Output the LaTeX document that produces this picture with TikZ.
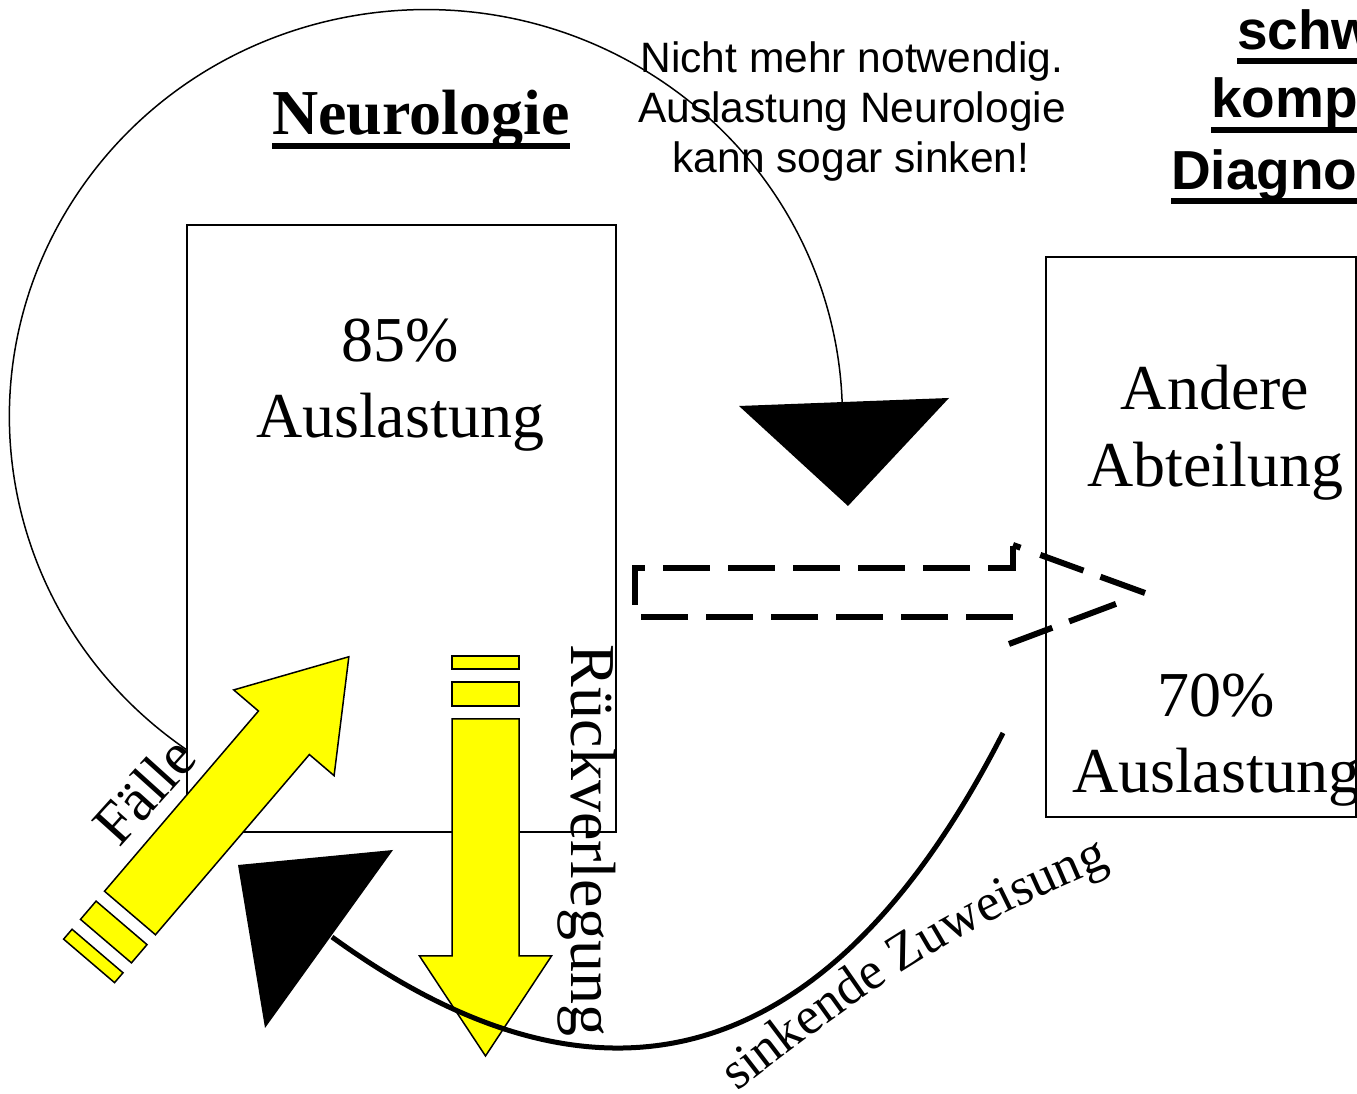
\documentclass[tikz,border=0pt]{standalone}
\usepackage{fontspec}
\setmainfont{Liberation Serif}
\newfontfamily\arialfont{Liberation Sans}
\usetikzlibrary{decorations.text}
\definecolor{pureyellow}{RGB}{255,255,0}
\newsavebox\ulbox
\newcommand\thickul[3]{\sbox\ulbox{#3}\rlap{\rule[-#1]{\wd\ulbox}{#2}}\usebox\ulbox}
\newcommand\fsz[1]{\fontsize{#1}{#1}\selectfont}
\newcommand\sinkfont{\fontsize{53}{53}\selectfont}
\tikzset{
  boxstyle/.style={draw=black, line width=1.5pt, inner sep=0pt, outer sep=0pt},
  lbl/.style={inner sep=0pt, outer sep=0pt},
  yarrow/.style={fill=pureyellow, draw=black, line width=1.5pt, line join=miter},
  thinline/.style={draw=black, line width=1.5pt},
  thickline/.style={draw=black, line width=5pt},
  dashline/.style={draw=black, line width=6pt, line join=miter, dash pattern=on 47pt off 18pt},
  yellowarrow/.pic={
    \draw[yarrow] (0,-33.5) -- (237,-33.5) -- (237,-66) -- (337,0) -- (237,66) -- (237,33.5) -- (0,33.5) -- cycle;
    \draw[yarrow] (-37,-33.5) rectangle (-13,33.5);
    \draw[yarrow] (-63,-33.5) rectangle (-50,33.5);
  }
}
\begin{document}
\begin{tikzpicture}[x=1pt,y=1pt]
\useasboundingbox (0,0) rectangle (1357,1094);
\clip (0,0) rectangle (1357,1094);

% boxes
\node[boxstyle, minimum width=429pt, minimum height=607pt, anchor=south west] (neuro) at (187,262) {};
\node[boxstyle, minimum width=310pt, minimum height=560pt, anchor=south west] (andere) at (1046,277) {};

% big arc to the black arrow head
\coordinate (arcS) at (187,344);
\draw[thinline] (arcS) arc[start angle=235, end angle=2, x radius=416.5, y radius=407] coordinate (arcE);
\coordinate (triA1) at (739,688);
\coordinate (triA2) at (949,696);
\coordinate (triA3) at (848,588);
\fill[black] (triA1) -- (triA2) -- (triA3) -- cycle;

% yellow arrows
\pic[rotate=49.5] at (130,181) {yellowarrow};
\pic[rotate=-90] at (485.5,375) {yellowarrow};

% dashed outline arrow
\coordinate (dtip) at (1145,501);
\coordinate (dup) at (1013,549);
\draw[dashline, dash phase=53pt] (635,477) -- (635,526) -- (1013,526) -- (dup);
\draw[dashline, dash pattern=on 8pt off 21pt on 46pt off 18pt on 50pt off 10pt] (dup) -- (dtip);
\draw[dashline, dash pattern=on 0pt off 31pt on 50pt off 18pt on 60pt off 10pt] (dtip) -- (1009,450);
\draw[dashline] (1013,477) -- (635,477);

% curved thick connector
\coordinate (wS) at (1003,361);
\coordinate (wE) at (332,157);
\draw[thickline] (wS) .. controls (841,44) and (620,-52) .. (wE);
\coordinate (triB1) at (238,229);
\coordinate (triB2) at (393,244);
\coordinate (triB3) at (265,66);
\fill[black] (triB1) -- (triB2) -- (triB3) -- cycle;

% texts
\node[lbl, anchor=base, font=\fsz{64}\bfseries] (neurotitle) at (421,959) {\thickul{14pt}{6pt}{Neurologie}};
\node[lbl, anchor=base, font=\fsz{64}] (pct85) at (400,732) {85\%};
\node[lbl, anchor=base, font=\fsz{64}] (ausl1) at (400,656) {Auslastung};
\node[lbl, anchor=base, font=\fsz{64}] (andtxt) at (1215,684) {Andere};
\node[lbl, anchor=base, font=\fsz{64}] (abttxt) at (1215,607) {Abteilung};
\node[lbl, anchor=base, font=\fsz{64}] (pct70) at (1216,377) {70\%};
\node[lbl, anchor=base, font=\fsz{64}] (ausl2) at (1216,301) {Auslastung};

\node[lbl, anchor=base, font=\arialfont\fsz{42.5}] (nm1) at (852,1021) {Nicht mehr notwendig.};
\node[lbl, anchor=base, font=\arialfont\fsz{42.5}] (nm2) at (852,971) {Auslastung Neurologie};
\node[lbl, anchor=base, font=\arialfont\fsz{42.5}] (nm3) at (851,921) {kann sogar sinken!};

\node[lbl, anchor=base west, font=\arialfont\bfseries\fsz{55}] (tr1) at (1237,1044) {\thickul{14pt}{6pt}{schwere}};
\node[lbl, anchor=base west, font=\arialfont\bfseries\fsz{55}] (tr2) at (1211,976) {\thickul{15pt}{6pt}{komplexe}};
\node[lbl, anchor=base west, font=\arialfont\bfseries\fsz{55}] (tr3) at (1171,904) {\thickul{14pt}{6pt}{Diagnosen}};

\node[lbl, rotate=-90, anchor=base west, font=\fsz{64}] (rueck) at (571,449) {Rückverlegung};
\node[lbl, rotate=48, anchor=base west, font=\fsz{60}] (faelle) at (119,245) {Fälle};

\coordinate (zs) at (737,2);
\coordinate (ze) at (1112,228);
\path[decorate, decoration={text along path, text={|\sinkfont|sinkende Zuweisung}, text align=left}] (zs) to[out=38, in=202] (ze);
\end{tikzpicture}
\end{document}
